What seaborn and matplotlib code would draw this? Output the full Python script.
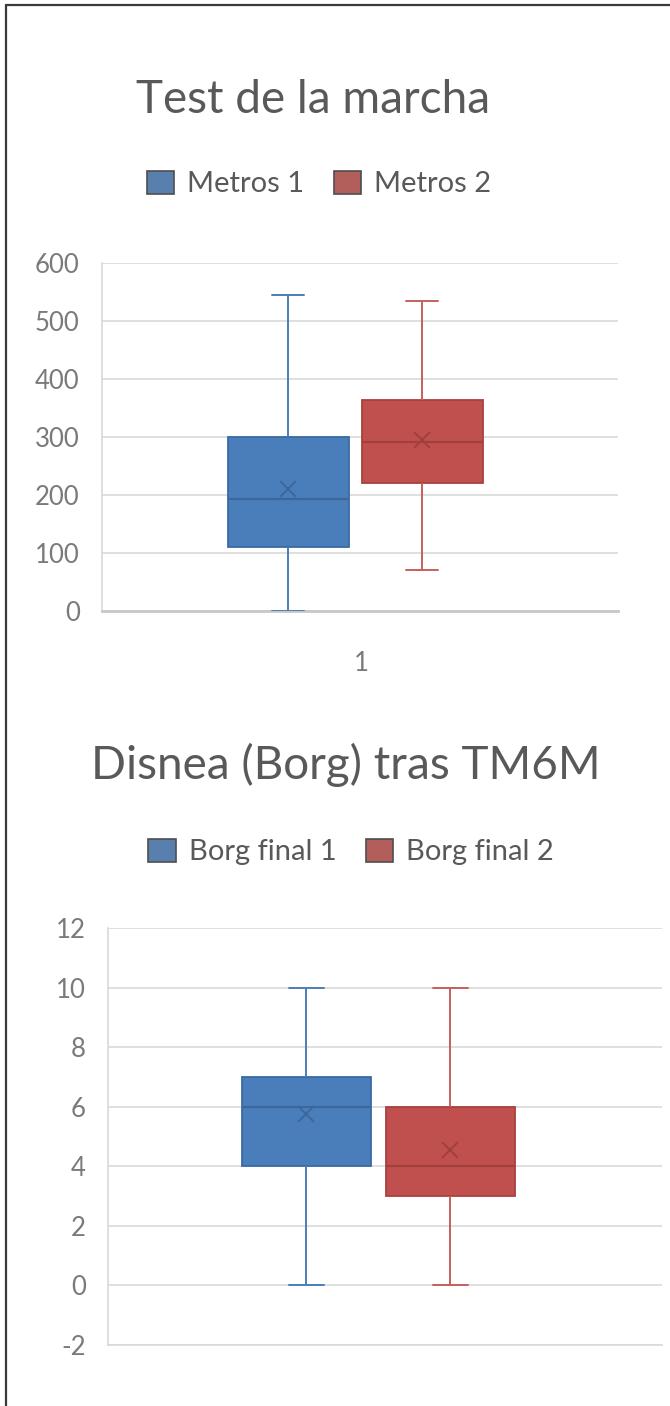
import numpy as np
import pandas as pd
import matplotlib
matplotlib.use("Agg")
import matplotlib.pyplot as plt
from matplotlib.lines import Line2D
import seaborn as sns

# --- Test de la marcha (metros recorridos) ---
marcha_series = ["Metros 1", "Metros 2"]
marcha_min = [0, 70]
marcha_q1 = [110, 220]
marcha_median = [193, 292]
marcha_q3 = [300, 363]
marcha_max = [545, 535]
marcha_mean = [210, 295]
marcha_ticks = [0, 100, 200, 300, 400, 500, 600]

# --- Disnea (escala de Borg) tras TM6M ---
borg_series = ["Borg final 1", "Borg final 2"]
borg_min = [0, 0]
borg_q1 = [4, 3]
borg_median = [6, 4]
borg_q3 = [7, 6]
borg_max = [10, 10]
borg_mean = [5.75, 4.55]
borg_ticks = [-2, 0, 2, 4, 6, 8, 10, 12]

category = ["1"]

FILL = ["#4A7EBB", "#C0504D"]
EDGE = ["#3A6AA3", "#A8413E"]
WHISK = ["#4A7EBB", "#C4605D"]
MARK = ["#3B679C", "#A03F3C"]
GRID = "#D9D9D9"
TEXT = "#595959"
TICK = "#7A7A7A"

sns.set_theme(style="white")
plt.rcParams["font.family"] = ["Lato", "DejaVu Sans"]

W, H = 670, 1406
fig = plt.figure(figsize=(W / 100, H / 100), dpi=100)


def long_frame(series, lo, q1, med, q3, hi):
    rows = []
    for i, name in enumerate(series):
        for v in (lo[i], q1[i], med[i], q3[i], hi[i]):
            rows.append({"cat": category[0], "serie": name, "valor": v})
    return pd.DataFrame(rows)


def draw_panel(rect, series, lo, q1, med, q3, hi, mean, ticks, ylim, xlim,
               title, title_xy, legend_xy, show_xtick, bottom_spine):
    ax = fig.add_axes(rect)
    df = long_frame(series, lo, q1, med, q3, hi)
    sns.boxplot(data=df, x="cat", y="valor", hue="serie", hue_order=series,
                palette=FILL, width=0.52, gap=0.1, whis=(0, 100),
                linewidth=1.2, capwidths=0.062, ax=ax, zorder=3)
    for i, cont in enumerate(ax.containers):
        for b in cont.boxes:
            b.set_facecolor(FILL[i])
            b.set_edgecolor(EDGE[i])
            b.set_linewidth(1.3)
            b.set_zorder(3)
        for m in cont.medians:
            m.set_color(MARK[i])
            m.set_linewidth(1.6)
            m.set_zorder(4)
        for wl in list(cont.whiskers) + list(cont.caps):
            wl.set_color(WHISK[i])
            wl.set_linewidth(1.4)
            wl.set_zorder(3)

    mean_df = pd.DataFrame({"cat": category * len(series), "serie": series,
                            "media": mean})
    sns.pointplot(data=mean_df, x="cat", y="media", hue="serie",
                  hue_order=series, palette=MARK, dodge=0.26, markers="x",
                  linestyles="none", errorbar=None, markersize=12,
                  markeredgewidth=1.4, legend=False, ax=ax, zorder=5)

    ax.set_xlim(*xlim)
    ax.set_ylim(*ylim)
    ax.set_yticks(ticks)
    ax.set_yticklabels([str(t) for t in ticks])
    ax.yaxis.grid(True, color=GRID, linewidth=1.2)
    ax.set_axisbelow(True)
    ax.set_xlabel("")
    ax.set_ylabel("")
    if show_xtick:
        ax.set_xticks([0.012])
        ax.set_xticklabels(category)
    else:
        ax.set_xticks([])
    ax.tick_params(axis="y", length=0, pad=16, labelsize=18.5, labelcolor=TICK)
    ax.tick_params(axis="x", length=0, pad=29, labelsize=18.5, labelcolor=TICK)
    for s in ("top", "right"):
        ax.spines[s].set_visible(False)
    ax.spines["left"].set_color(GRID)
    ax.spines["left"].set_linewidth(1.2)
    ax.spines["bottom"].set_color(bottom_spine[0])
    ax.spines["bottom"].set_linewidth(bottom_spine[1])

    sns.move_legend(ax, "center", bbox_to_anchor=legend_xy,
                    bbox_transform=fig.transFigure, ncol=2, frameon=False,
                    title=None, fontsize=21, handlelength=0.94,
                    handleheight=0.87, handletextpad=0.45, columnspacing=1.0,
                    labelcolor=TEXT)
    fig.text(title_xy[0], title_xy[1], title, ha="center", va="center",
             fontsize=33, color=TEXT)
    return ax


draw_panel([102 / W, 1 - 611 / H, 516 / W, 348 / H],
           marcha_series, marcha_min, marcha_q1, marcha_median, marcha_q3,
           marcha_max, marcha_mean, marcha_ticks, (0, 600), (-0.491, 0.509),
           "Test de la marcha", (313 / W, 1 - 100 / H), (319 / W, 1 - 184 / H),
           True, ("#C8C8C8", 2.0))

draw_panel([108 / W, 1 - 1345 / H, 554 / W, 417 / H],
           borg_series, borg_min, borg_q1, borg_median, borg_q3,
           borg_max, borg_mean, borg_ticks, (-2, 12), (-0.488, 0.512),
           "Disnea (Borg) tras TM6M", (346 / W, 1 - 765 / H),
           (351 / W, 1 - 852 / H), False, (GRID, 1.2))

# frame lines along the top and left edges
fig.add_artist(Line2D([6 / W, 1], [1 - 5 / H, 1 - 5 / H], color="#3A3A3A",
                      linewidth=1.6, transform=fig.transFigure))
fig.add_artist(Line2D([6 / W, 6 / W], [0, 1 - 5 / H], color="#3A3A3A",
                      linewidth=1.6, transform=fig.transFigure))

fig.savefig("out.png", dpi=100, facecolor="white")
